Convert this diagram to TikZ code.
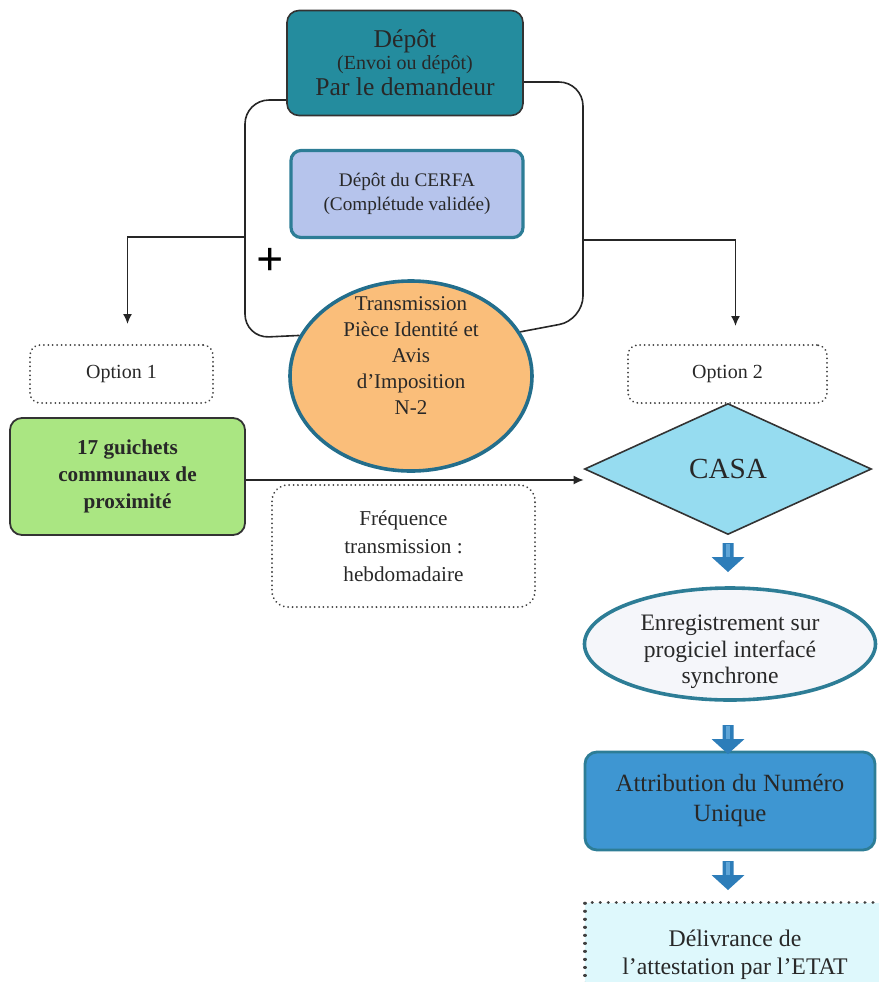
\documentclass[tikz,border=0pt]{standalone}
\usepackage{fontspec}
\setmainfont{Liberation Serif}
\usetikzlibrary{shapes.geometric,arrows.meta}
\definecolor{depotteal}{RGB}{36,140,158}
\definecolor{cerfablue}{RGB}{182,196,236}
\definecolor{bordteal}{RGB}{45,125,150}
\definecolor{bordblue}{RGB}{35,110,140}
\definecolor{orangefill}{RGB}{250,190,122}
\definecolor{greenfill}{RGB}{170,230,130}
\definecolor{casacyan}{RGB}{150,220,240}
\definecolor{enrfill}{RGB}{245,246,250}
\definecolor{attrblue}{RGB}{62,150,210}
\definecolor{arrowblue}{RGB}{45,125,185}
\definecolor{arrowlight}{RGB}{95,165,215}
\definecolor{delivfill}{RGB}{222,248,252}
\definecolor{txtgrey}{RGB}{40,40,40}
% block arrow pointing down, top centre at #1
\newcommand\blkdown[1]{%
  \fill[arrowblue] (#1) ++(-5.5,0) -- ++(11,0) -- ++(0,14) -- ++(11,0) -- ++(-16.5,15)
    -- ++(-16.5,-15) -- ++(11,0) -- cycle;
  \fill[arrowlight] (#1) ++(-2,1) rectangle ++(4,13);}
\begin{document}
\begin{tikzpicture}[x=0.5pt,y=-0.5pt,
  every node/.style={text=txtgrey,align=center},
  conn/.style={line width=0.8pt,draw=black!85},
  arr/.style={conn,-{Latex[length=5pt,width=4.5pt]}},
  dotline/.style={draw=black!75,line width=1pt,dash pattern=on 0.01pt off 2.2pt,line cap=round},
  depotbox/.style={draw=black!80,line width=0.8pt,fill=depotteal,rounded corners=6pt,
    minimum width=118pt,minimum height=52.5pt,inner sep=2pt,font=\fontsize{12.8}{13}\selectfont},
  cerfabox/.style={draw=bordteal,line width=1.6pt,fill=cerfablue,rounded corners=5pt,
    minimum width=116pt,minimum height=43.5pt,font=\fontsize{9.6}{12}\selectfont},
  transell/.style={ellipse,draw=bordblue,line width=1.8pt,fill=orangefill,
    minimum width=121pt,minimum height=95pt,inner sep=0pt},
  translbl/.style={font=\fontsize{10.5}{13}\selectfont},
  optbox/.style={dotline,rounded corners=5pt,minimum height=29pt,font=\fontsize{10}{12}\selectfont},
  guichetbox/.style={draw=black!80,line width=0.9pt,fill=greenfill,rounded corners=6pt,
    minimum width=117.5pt,minimum height=58.5pt,font=\fontsize{10.6}{13.5}\selectfont\bfseries},
  freqbox/.style={dotline,rounded corners=8pt,minimum width=131.5pt,minimum height=61pt,
    font=\fontsize{10.6}{14}\selectfont},
  casadiamond/.style={diamond,draw=black!80,line width=0.8pt,fill=casacyan,aspect=2.2,
    minimum width=143.5pt,minimum height=65.5pt,inner sep=0pt,font=\fontsize{14.6}{16}\selectfont},
  enrell/.style={ellipse,draw=bordteal,line width=1.8pt,fill=enrfill,
    minimum width=145.5pt,minimum height=56pt,inner sep=0pt},
  enrlbl/.style={font=\fontsize{11.8}{13.3}\selectfont},
  attrbox/.style={draw=bordteal,line width=1.4pt,fill=attrblue,rounded corners=6pt,
    minimum width=145pt,minimum height=49pt,font=\fontsize{12.4}{15}\selectfont},
  delivbox/.style={fill=delivfill,draw=black!75,line width=1.6pt,dash pattern=on 0.01pt off 4pt,
    line cap=round,minimum width=150pt,minimum height=52.5pt,font=\fontsize{11.9}{14}\selectfont}]
\useasboundingbox (0,0) rectangle (879,982);

% Depot by the applicant
\node[depotbox] (depot) at (405,63) {Dépôt\\[-2pt]{\fontsize{10}{12}\selectfont (Envoi ou dépôt)}\\[0pt]Par le demandeur};

% CERFA
\node[cerfabox] (cerfa) at (407,194) {Dépôt du CERFA\\(Complétude validée)};

% Transmission ellipse
\node[transell] (trans) at (411,376) {};
\node[translbl] (translbl) at ([yshift=10pt]trans.center) {Transmission\\Pièce Identité et\\Avis\\d’Imposition\\N-2};

% Plus sign
\node[font=\fontsize{24}{24}\selectfont\bfseries,text=black] (plus) at (270,262) {+};

% Bracket around the documents
\draw[conn,rounded corners=12pt] (depot.west |- 0,100) -- (245,100) -- (245,338) -- (trans.160);
\draw[conn,rounded corners=12pt] (depot.east |- 0,82) -- (583,82) -- (583,320) -- (trans.22);

% Options
\node[optbox,minimum width=91.5pt] (opt1) at (121.5,374) {Option 1};
\node[optbox,minimum width=99.5pt] (opt2) at (727.5,374) {Option 2};
\coordinate (lj) at (245,237);
\coordinate (rj) at (583,240);
\draw[arr] (lj) -| ([xshift=3pt,yshift=10pt]opt1.north);
\draw[arr] (rj) -| ([xshift=4pt,yshift=9pt]opt2.north);

% Option 1 : counters
\node[guichetbox] (guichet) at (127.5,476.5) {17 guichets\\communaux de\\proximité};
\node[freqbox] (freq) at (403.5,546) {Fréquence\\transmission :\\hebdomadaire};

% Option 2 : CASA and following steps
\node[casadiamond] (casa) at (728,469) {CASA};
\draw[arr] (guichet.east |- 0,480) -- (casa.west |- 0,480);

\node[enrell] (enreg) at (730,644) {};
\node[enrlbl] (enrlbl) at ([yshift=-4pt]enreg.center) {Enregistrement sur\\progiciel interfacé\\synchrone};
\node[attrbox] (attr) at (730,801) {Attribution du Numéro\\Unique};
\node[delivbox] (deliv) at (735,955) {Délivrance de\\l’attestation par l’ETAT};

% Block arrows between steps
\coordinate (b1) at (728,543);
\coordinate (b2) at (728,725);
\coordinate (b3) at (728,861);
\blkdown{b1}
\blkdown{b2}
\blkdown{b3}
\end{tikzpicture}
\end{document}
